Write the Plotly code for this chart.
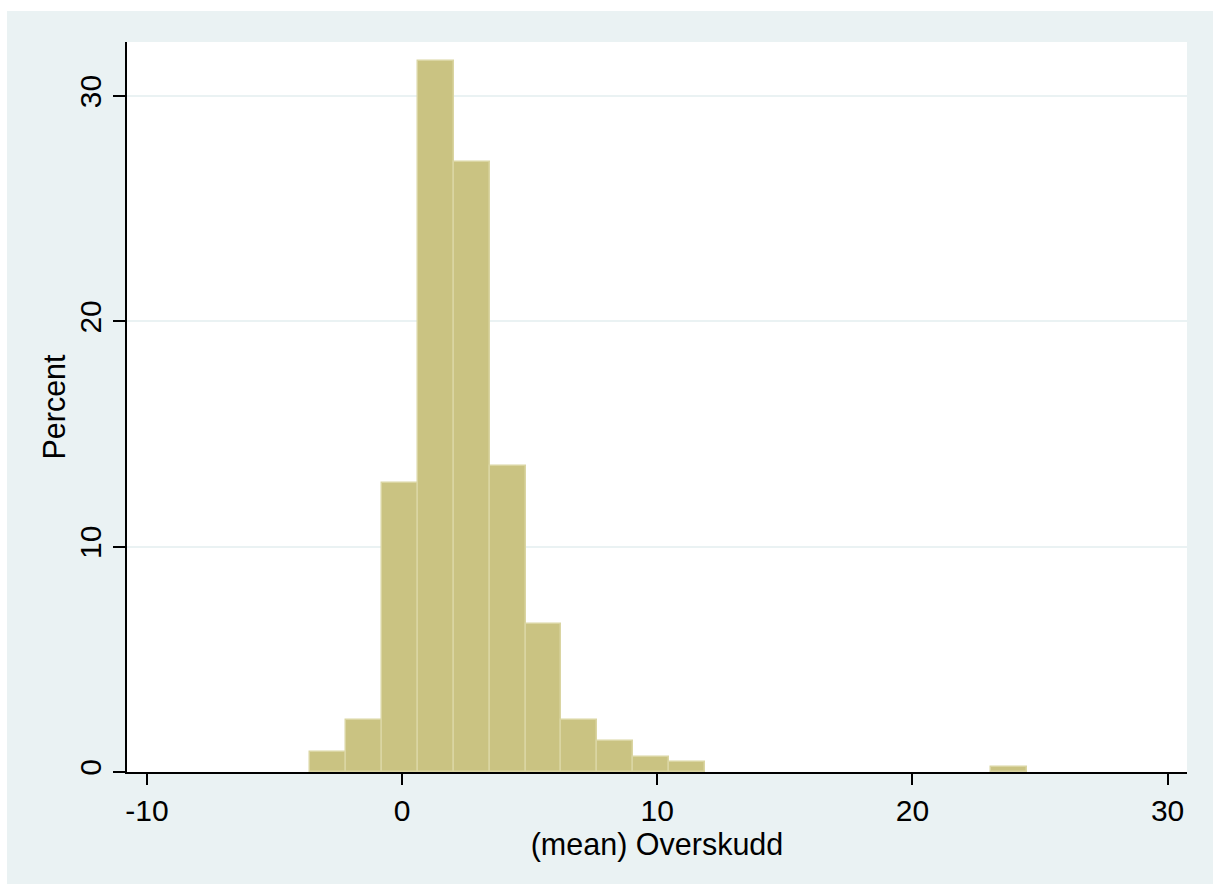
import plotly.graph_objects as go

# ---- data ----
bin_start = -3.59      # left edge of first bin
bin_width = 1.4045     # histogram bin width
percent = [0.91, 2.29, 12.84, 31.55, 27.07, 13.57, 6.57, 2.29, 1.37, 0.68, 0.45,
           0, 0, 0, 0, 0, 0, 0, 0, 0.23]
x_ticks = [-10, 0, 10, 20, 30]
x_tick_labels = ["-10", "0", "10", "20", "30"]
y_ticks = [0, 10, 20, 30]
y_tick_labels = ["0", "10", "20", "30"]
x_title = "(mean) Overskudd"
y_title = "Percent"

# ---- style ----
BG = "#EAF2F3"
FILL = "#CAC382"
EDGE = "#DAD5A2"
FONT = "Liberation Sans, Arial, sans-serif"

W, H = 1213, 884
ML, MR, MT, MB = 127, 26, 42, 112

centers = [bin_start + bin_width * (i + 0.5) for i in range(len(percent))]
xs = [c for c, p in zip(centers, percent) if p > 0]
ys = [p for p in percent if p > 0]

fig = go.Figure()
fig.add_trace(go.Bar(
    x=xs, y=ys, width=bin_width,
    marker=dict(color=FILL, line=dict(color=EDGE, width=1.5)),
    hoverinfo="x+y",
))

pw = W - ML - MR
ph = H - MT - MB
# white strips outside the Stata-like outer background
fig.add_shape(type="rect", xref="paper", yref="paper",
              x0=-ML / pw, x1=(7 - ML) / pw, y0=-MB / ph, y1=1 + MT / ph,
              fillcolor="white", line_width=0, layer="below")
fig.add_shape(type="rect", xref="paper", yref="paper",
              x0=-ML / pw, x1=1 + MR / pw, y0=1 + (MT - 11) / ph, y1=1 + MT / ph,
              fillcolor="white", line_width=0, layer="below")

fig.update_layout(
    width=W, height=H,
    margin=dict(l=ML, r=MR, t=MT, b=MB, pad=0),
    paper_bgcolor=BG, plot_bgcolor="white",
    font=dict(family=FONT, size=30, color="black"),
    showlegend=False, bargap=0,
)
fig.update_xaxes(
    range=[-10.78, 30.76], tickvals=x_ticks, ticktext=x_tick_labels,
    ticks="outside", ticklen=11, tickwidth=1.5, tickcolor="black",
    showline=True, linecolor="black", linewidth=1.5,
    showgrid=False, zeroline=False,
    tickfont=dict(size=30),
    title=dict(text=x_title, font=dict(size=30.5), standoff=4),
)
fig.update_yaxes(
    range=[0, 32.4], tickvals=y_ticks, ticktext=y_tick_labels, tickangle=-90,
    ticks="outside", ticklen=12, tickwidth=1.5, tickcolor="black",
    showline=True, linecolor="black", linewidth=1.5,
    showgrid=True, gridcolor=BG, gridwidth=2, zeroline=False,
    tickfont=dict(size=30),
    title=dict(text=y_title, font=dict(size=30.5), standoff=0),
)

fig.write_html("out.html", config={"displayModeBar": False},
               post_script="document.body.style.margin='0';document.body.style.overflow='hidden';")
